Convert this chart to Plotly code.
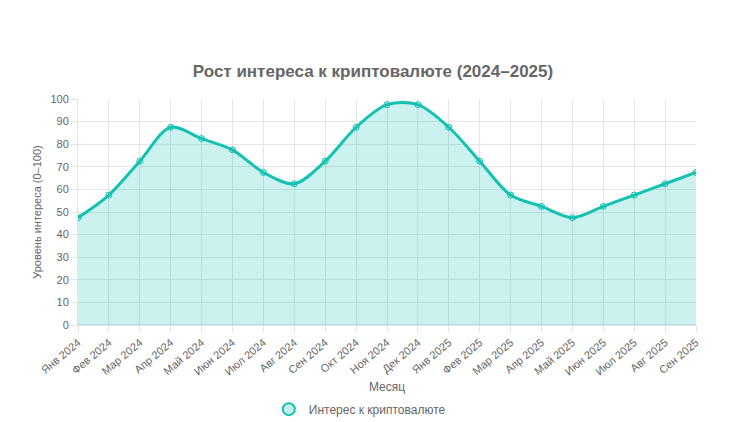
import plotly.graph_objects as go

months = ["Янв 2024", "Фев 2024", "Мар 2024", "Апр 2024", "Май 2024", "Июн 2024",
          "Июл 2024", "Авг 2024", "Сен 2024", "Окт 2024", "Ноя 2024", "Дек 2024",
          "Янв 2025", "Фев 2025", "Мар 2025", "Апр 2025", "Май 2025", "Июн 2025",
          "Июл 2025", "Авг 2025", "Сен 2025"]
interest = [47.5, 57.5, 72.5, 87.5, 82.5, 77.5, 67.5, 62.5, 72.5, 87.5, 97.5, 97.5,
            87.5, 72.5, 57.5, 52.5, 47.5, 52.5, 57.5, 62.5, 67.5]
y_ticks = list(range(0, 101, 10))

line_col = "rgb(20,194,178)"
fill_col = "rgba(20,194,178,0.22)"
font_main = "Liberation Sans, Arial, sans-serif"

fig = go.Figure()
fig.add_trace(go.Scatter(
    x=months, y=interest, mode="lines+markers",
    line=dict(color=line_col, width=3, shape="spline", smoothing=0.9),
    marker=dict(size=6, color=fill_col, line=dict(color=line_col, width=1)),
    fill="tozeroy", fillcolor=fill_col,
    showlegend=False,
))
# legend entry (circle like the original)
fig.add_trace(go.Scatter(
    x=[None], y=[None], mode="markers", name="Интерес к криптовалюте",
    marker=dict(size=11, color="rgba(20,194,178,0.25)", line=dict(color=line_col, width=1.5)),
))

# page body has an 8px margin, so the figure is a bit smaller than the window
fig.update_layout(
    width=730, height=414,
    paper_bgcolor="white", plot_bgcolor="white",
    margin=dict(l=70, r=42, t=91, b=97),
    font=dict(family=font_main, size=11, color="#666"),
    title=dict(text="<b>Рост интереса к криптовалюте (2024–2025)</b>",
               x=0.5, xanchor="center", y=0.848, yanchor="middle",
               font=dict(size=17, color="#666")),
    legend=dict(orientation="h", x=0.456, xanchor="center",
                yref="container", y=0.031, yanchor="middle",
                font=dict(size=12, color="#666"), itemsizing="constant"),
    xaxis=dict(
        type="category", range=[0, len(months) - 1], automargin=False,
        tickangle=-40, showgrid=True, gridcolor="#e5e5e5",
        ticks="outside", ticklen=6, tickcolor="#e5e5e5",
        tickfont=dict(size=11, color="#666"),
        showline=True, linecolor="#e5e5e5",
        title=dict(text="Месяц", font=dict(size=12, color="#666"), standoff=6),
    ),
    yaxis=dict(
        range=[0, 100], tickvals=y_ticks, showgrid=True, gridcolor="#e5e5e5",
        automargin=False,
        ticks="outside", ticklen=6, tickcolor="#e5e5e5",
        tickfont=dict(size=11, color="#666"),
        zeroline=True, zerolinecolor="#e5e5e5", showline=True, linecolor="#e5e5e5",
        title=dict(text="Уровень интереса (0–100)", font=dict(size=11, color="#666"), standoff=6),
    ),
)

fig.write_html("out.html")
